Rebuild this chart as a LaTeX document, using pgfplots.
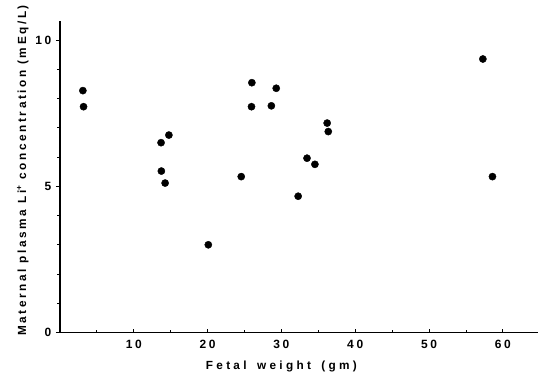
\documentclass[border=0pt]{standalone}
\usepackage{fontspec}
\setmainfont{Liberation Sans}
\newfontfamily\lab[LetterSpace=22,BoldFont={Liberation Sans Bold}]{Liberation Sans}
\newfontfamily\labx[LetterSpace=28,WordSpace=1.6,BoldFont={Liberation Sans Bold}]{Liberation Sans}
\usepackage{pgfplots}
\pgfplotsset{compat=1.18}
\begin{document}
\begin{tikzpicture}
\begin{axis}[
  scale only axis,
  width=479pt, height=312.3pt,
  xmin=0, xmax=64.8, ymin=0, ymax=10.66,
  axis lines*=left,
  axis line style={line width=1.4pt},
  xtick={10,20,30,40,50,60},
  ytick={0,5,10},
  minor xtick={5,15,25,35,45,55},
  minor ytick={1,2,3,4,6,7,8,9},
  tick style={black, line width=0.9pt},
  major tick length=4pt, minor tick length=2.5pt,
  xtick align=inside, ytick align=outside,
  /pgf/number format/assume math mode=true,
  ticklabel style={font=\lab\bfseries\fontsize{12}{14}\selectfont},
  xticklabel style={yshift=-4pt},
  yticklabel style={xshift=-1pt},
  xlabel={Fetal weight (gm)},
  ylabel={Maternal plasma Li\textsuperscript{+} concentration (mEq/L)},
  ylabel style={font=\lab\bfseries\fontsize{11.8}{13}\selectfont, at={(ticklabel cs:0.52)}, anchor=south, yshift=0pt},
  xlabel style={font=\labx\bfseries\fontsize{11.8}{13}\selectfont, at={(ticklabel cs:0.463)}, anchor=north, yshift=-6pt},
  clip=false,
]
\addplot[only marks, mark=*, mark size=3.6pt, black] coordinates {
(3.11,8.27) (3.2,7.72) (13.7,6.49) (14.76,6.75) (13.74,5.52) (14.25,5.11)
(20.1,3.0) (24.56,5.33) (26.0,8.54) (25.95,7.72) (28.64,7.75) (29.3,8.35)
(32.27,4.66) (33.47,5.96) (34.54,5.75) (36.2,7.16) (36.35,6.87)
(57.29,9.35) (58.59,5.33)
};
\end{axis}
\path (current axis.south west) ++(-60pt,-43pt) coordinate (bl);
\path (current axis.north east) ++(0pt,20.7pt) coordinate (tr);
\path (bl) rectangle (tr);
\end{tikzpicture}
\end{document}
